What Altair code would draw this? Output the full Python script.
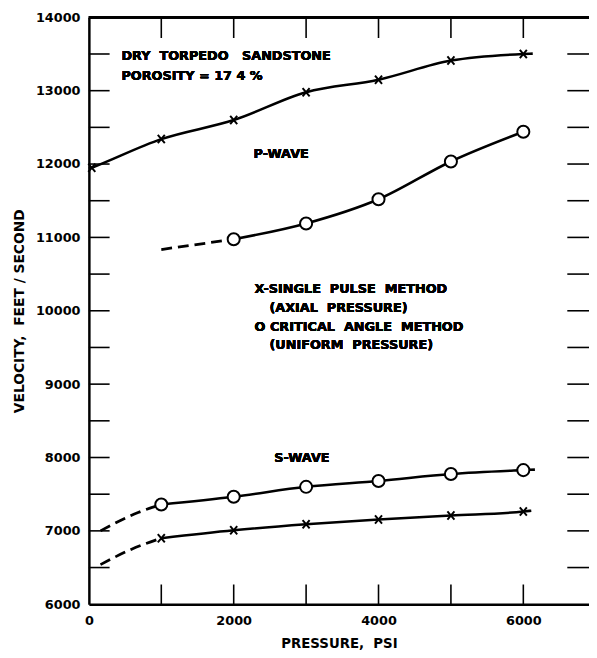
import altair as alt
import pandas as pd

# ---- data ----
# P-wave, single pulse method (X markers)
p_x_pressure = [40, 1000, 2000, 3000, 4000, 5000, 6000]
p_x_velocity = [11950, 12340, 12600, 12980, 13150, 13410, 13500]
p_x_line_p = [0, 40, 1000, 2000, 3000, 4000, 5000, 6000, 6130]
p_x_line_v = [11935, 11950, 12340, 12600, 12980, 13150, 13410, 13500, 13505]

# P-wave, critical angle method (O markers)
p_o_pressure = [2000, 3000, 4000, 5000, 6000]
p_o_velocity = [10975, 11190, 11520, 12035, 12440]
p_o_dash_p = [1000, 2000]
p_o_dash_v = [10835, 10975]

# S-wave, critical angle method (O markers)
s_o_pressure = [1000, 2000, 3000, 4000, 5000, 6000]
s_o_velocity = [7360, 7465, 7600, 7680, 7775, 7828]
s_o_line_p = [1000, 2000, 3000, 4000, 5000, 6000, 6160]
s_o_line_v = [7360, 7465, 7600, 7680, 7775, 7828, 7835]
s_o_dash_p = [160, 680, 1000]
s_o_dash_v = [7000, 7250, 7360]

# S-wave, single pulse method (X markers)
s_x_pressure = [1000, 2000, 3000, 4000, 5000, 6000]
s_x_velocity = [6900, 7008, 7090, 7155, 7210, 7263]
s_x_line_p = [1000, 2000, 3000, 4000, 5000, 6000, 6110]
s_x_line_v = [6900, 7008, 7090, 7155, 7210, 7263, 7275]
s_x_dash_p = [160, 590, 1000]
s_x_dash_v = [6540, 6750, 6900]

# axis ticks / labels
x_label_values = [0, 2000, 4000, 6000]
x_tick_values = [1000, 2000, 3000, 4000, 5000, 6000]
y_label_values = [6000, 7000, 8000, 9000, 10000, 11000, 12000, 13000, 14000]
y_tick_values = [6500, 7000, 7500, 8000, 8500, 9000, 9500, 10000, 10500,
                 11000, 11500, 12000, 12500, 13000, 13500]

# ---- build tables ----
def curve(name, ps, vs):
    return pd.DataFrame({"pressure": ps, "velocity": vs, "curve": name})

solid = pd.concat([
    curve("px", p_x_line_p, p_x_line_v),
    curve("po", p_o_pressure, p_o_velocity),
    curve("so", s_o_line_p, s_o_line_v),
    curve("sx", s_x_line_p, s_x_line_v),
])
dashed = pd.concat([
    curve("po", p_o_dash_p, p_o_dash_v),
    curve("so", s_o_dash_p, s_o_dash_v),
    curve("sx", s_x_dash_p, s_x_dash_v),
])
x_marks = pd.concat([
    curve("px", p_x_pressure, p_x_velocity),
    curve("sx", s_x_pressure, s_x_velocity),
])
o_marks = pd.concat([
    curve("po", p_o_pressure, p_o_velocity),
    curve("so", s_o_pressure, s_o_velocity),
])
xt = pd.DataFrame({"pressure": x_tick_values})
yt = pd.DataFrame({"velocity": y_tick_values})

W, H = 507, 595
FONT = "DejaVu Sans"
NB = "\u00a0"
xs = alt.Scale(domain=[0, 6907], nice=False, zero=False)
ys = alt.Scale(domain=[6000, 14000], nice=False, zero=False)

X = alt.X("pressure:Q", scale=xs, axis=alt.Axis(
    title="PRESSURE," + NB + " PSI", values=x_label_values, format="d",
    ticks=False, grid=False, domainColor="black", domainWidth=2.5,
    labelFlush=False, labelPadding=11, labelFont=FONT,
    labelFontWeight="bold", labelFontSize=13, labelColor="black",
    titleFont=FONT, titleFontWeight="bold", titleFontSize=13.5,
    titleColor="black", titlePadding=9, labelOverlap=False))
Y = alt.Y("velocity:Q", scale=ys, axis=alt.Axis(
    title="VELOCITY," + NB + " FEET / SECOND", values=y_label_values,
    format="d", ticks=False, grid=False, domainColor="black",
    domainWidth=2.5, labelFlush=False, labelPadding=9, labelFont=FONT,
    labelFontWeight="bold", labelFontSize=13, labelColor="black",
    titleFont=FONT, titleFontWeight="bold", titleFontSize=14,
    titleColor="black", titlePadding=9, labelOverlap=False))

base_solid = alt.Chart(solid).mark_line(
    color="black", strokeWidth=2.6, interpolate="monotone"
).encode(x=X, y=Y, detail="curve:N")

base_dash = alt.Chart(dashed).mark_line(
    color="black", strokeWidth=2.8, strokeDash=[11, 6], interpolate="monotone"
).encode(x="pressure:Q", y="velocity:Q", detail="curve:N")

xm = alt.Chart(x_marks).mark_point(
    shape="M-0.85,-1L0.85,1M0.85,-1L-0.85,1", size=70, stroke="black",
    strokeWidth=2, filled=False, opacity=1
).encode(x="pressure:Q", y="velocity:Q")

om = alt.Chart(o_marks).mark_point(
    shape="circle", size=150, stroke="black", strokeWidth=2, fill="white",
    filled=False, fillOpacity=1, opacity=1
).encode(x="pressure:Q", y="velocity:Q")

# inward ticks
left_t = alt.Chart(yt).mark_rule(color="black", strokeWidth=1.6).encode(
    y="velocity:Q", x=alt.value(0), x2=alt.value(21))
right_t = alt.Chart(yt).mark_rule(color="black", strokeWidth=1.6).encode(
    y="velocity:Q", x=alt.value(W - 22), x2=alt.value(W))
bot_t = alt.Chart(xt).mark_rule(color="black", strokeWidth=1.6).encode(
    x="pressure:Q", y=alt.value(H), y2=alt.value(H - 20))
top_t = alt.Chart(xt).mark_rule(color="black", strokeWidth=1.6).encode(
    x="pressure:Q", y=alt.value(0), y2=alt.value(21))
top_spine = alt.Chart(xt).mark_rule(color="black", strokeWidth=2.5).encode(
    y=alt.value(0), x=alt.value(0), x2=alt.value(W))

def label(text, px, py, size=13):
    return alt.Chart(xt).mark_text(
        text=text.replace("  ", " " + NB), align="left", baseline="middle",
        font=FONT, fontWeight="bold", fontSize=size, color="black"
    ).encode(x=alt.value(px), y=alt.value(py))

texts = [
    label("DRY  TORPEDO   SANDSTONE", 33, 39),
    label("POROSITY = 17 4 %", 33, 60),
    label("P-WAVE", 167, 139),
    label("X-SINGLE  PULSE  METHOD", 168, 275),
    label("(AXIAL  PRESSURE)", 183, 295),
    label("O CRITICAL  ANGLE  METHOD", 168, 314),
    label("(UNIFORM  PRESSURE)", 183, 332),
    label("S-WAVE", 188, 447),
]

chart = alt.layer(
    base_solid, base_dash, left_t, right_t, bot_t, top_t, top_spine,
    xm, om, *texts
).properties(
    width=W, height=H,
    autosize=alt.AutoSizeParams(type="none"),
    padding={"left": 82, "top": 5, "right": 0, "bottom": 45},
).configure_view(stroke=None).configure(background="white")

chart.save("out.html", embed_options={"renderer": "svg", "actions": False})
